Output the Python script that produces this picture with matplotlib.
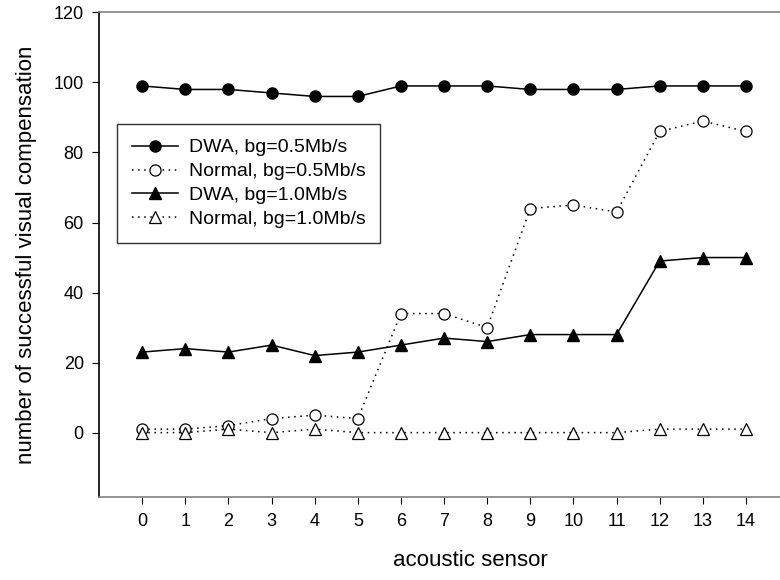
import matplotlib
matplotlib.use('Agg')
from matplotlib import pyplot as plt

plt.rcParams['font.family'] = ['Liberation Sans', 'DejaVu Sans']

sensors = list(range(15))
dwa_05 = [99, 98, 98, 97, 96, 96, 99, 99, 99, 98, 98, 98, 99, 99, 99]
normal_05 = [1, 1, 2, 4, 5, 4, 34, 34, 30, 64, 65, 63, 86, 89, 86]
dwa_10 = [23, 24, 23, 25, 22, 23, 25, 27, 26, 28, 28, 28, 49, 50, 50]
normal_10 = [0, 0, 1, 0, 1, 0, 0, 0, 0, 0, 0, 0, 1, 1, 1]
labels = ['DWA, bg=0.5Mb/s', 'Normal, bg=0.5Mb/s',
          'DWA, bg=1.0Mb/s', 'Normal, bg=1.0Mb/s']
yticks = [0, 20, 40, 60, 80, 100, 120]

fig = plt.figure(figsize=(7.8, 5.8), dpi=100)
# axes run past the right edge, like the cropped original
ax = fig.add_axes([0.127, 0.1436, 0.951, 0.835])

dot = (0, (1, 3))
ax.plot(sensors, dwa_05, '-', color='black', lw=1.1, marker='o',
        ms=8, mfc='black', mec='black', label=labels[0])
ax.plot(sensors, normal_05, linestyle=dot, color='black', lw=1.1, marker='o',
        ms=8, mfc='white', mec='black', mew=0.9, label=labels[1])
ax.plot(sensors, dwa_10, '-', color='black', lw=1.1, marker='^',
        ms=8.5, mfc='black', mec='black', label=labels[2])
ax.plot(sensors, normal_10, linestyle=dot, color='black', lw=1.1, marker='^',
        ms=8.5, mfc='white', mec='black', mew=0.9, label=labels[3])

ax.set_xlim(-1, 16.2)
ax.set_ylim(-18.3, 120)
ax.set_xticks(sensors)
ax.set_yticks(yticks)
ax.tick_params(direction='out', length=5, width=0.8, labelsize=13, color='black')
ax.tick_params(axis='x', pad=7)
ax.tick_params(axis='y', pad=6)

ax.spines['left'].set_color('black')
ax.spines['top'].set_color('#808080')
ax.spines['bottom'].set_color('#808080')
ax.spines['right'].set_visible(False)
for s in ['left', 'top', 'bottom']:
    ax.spines[s].set_linewidth(1.2)

ax.set_xlabel('acoustic sensor', fontsize=16, labelpad=14)
ax.set_ylabel('number of successful visual compensation', fontsize=16, labelpad=12)

leg = ax.legend(loc='upper left', bbox_to_anchor=(18 / 742, 0.769), borderaxespad=0,
                fontsize=14, frameon=True, fancybox=False, edgecolor='black',
                handlelength=2.4, labelspacing=0.32, borderpad=0.75, handletextpad=0.55)
leg.get_frame().set_linewidth(1.0)

fig.savefig('out.png', dpi=100)
